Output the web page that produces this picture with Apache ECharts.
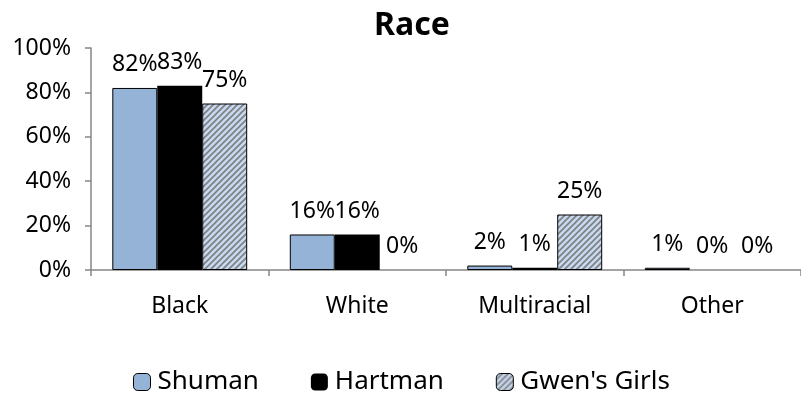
<!DOCTYPE html>
<html><head><meta charset="utf-8">
<script src="https://cdn.jsdelivr.net/npm/echarts@6/dist/echarts.min.js"></script>
<style>html,body{margin:0;padding:0;background:#fff}#c{width:801px;height:400px}</style>
</head><body><div id="c"></div>
<script>
const categories = ['Black', 'White', 'Multiracial', 'Other'];
const shuman = [82, 16, 2, 1];
const hartman = [83, 16, 1, 0];
const gwens = [75, 0, 25, 0];
const yTicks = [0, 20, 40, 60, 80, 100];

function stripePattern() {
  const c = document.createElement('canvas');
  c.width = 6; c.height = 6;
  const g = c.getContext('2d');
  g.fillStyle = '#C6D9F1';
  g.fillRect(0, 0, 6, 6);
  g.strokeStyle = '#7f7f7f';
  g.lineWidth = 1.6;
  g.beginPath();
  g.moveTo(-1, 7); g.lineTo(7, -1);
  g.moveTo(-4, 4); g.lineTo(4, -4);
  g.moveTo(2, 10); g.lineTo(10, 2);
  g.stroke();
  return c;
}
const pat = { image: stripePattern(), repeat: 'repeat' };
const font = 'Noto Sans';
const lbl = { show: true, position: 'top', formatter: '{c}%', color: '#000', fontSize: 23, fontFamily: font, distance: 12 };

function items(values, withBorder) {
  return values.map(v => ({ value: v, itemStyle: { borderWidth: (withBorder && v > 0) ? 1 : 0 } }));
}

const chart = echarts.init(document.getElementById('c'), null, { renderer: 'canvas' });
chart.setOption({
  animation: false,
  title: { text: 'Race', left: 407, top: 5, textAlign: 'center',
    textStyle: { fontSize: 32, fontWeight: 'bold', fontFamily: font, color: '#000' } },
  grid: { left: 91, right: -2, top: 48, bottom: 130 },
  legend: {
    top: 364, left: 128, itemWidth: 17, itemHeight: 17, itemGap: 52,
    textStyle: { fontSize: 26, fontFamily: font, color: '#000', padding: [0, 0, 0, 2] },
    data: [
      { name: 'Shuman', itemStyle: { color: '#95B3D7', borderColor: '#000', borderWidth: 1 } },
      { name: 'Hartman', itemStyle: { color: '#000' } },
      { name: "Gwen's Girls", itemStyle: { color: pat, borderColor: '#000', borderWidth: 1 } }
    ]
  },
  xAxis: {
    type: 'category', data: categories,
    axisLine: { lineStyle: { color: '#868686', width: 1.5 } },
    axisTick: { show: true, length: 6, lineStyle: { color: '#868686', width: 1.5 } },
    axisLabel: { color: '#000', fontSize: 23, fontFamily: font, margin: 25 }
  },
  yAxis: {
    type: 'value', min: 0, max: 100, interval: 20,
    axisLine: { show: true, lineStyle: { color: '#868686', width: 1.5 } },
    axisTick: { show: true, length: 6, lineStyle: { color: '#868686', width: 1.5 } },
    splitLine: { show: false },
    axisLabel: { formatter: '{value}%', color: '#000', fontSize: 23, fontFamily: font, margin: 20 }
  },
  series: [
    { name: 'Shuman', type: 'bar', data: items(shuman, true), barGap: '0%', barCategoryGap: '24%',
      itemStyle: { color: '#95B3D7', borderColor: '#000', borderWidth: 1 }, label: lbl },
    { name: 'Hartman', type: 'bar', data: hartman,
      itemStyle: { color: '#000' }, label: lbl },
    { name: "Gwen's Girls", type: 'bar', data: items(gwens, true),
      itemStyle: { color: pat, borderColor: '#000', borderWidth: 1 } , label: lbl }
  ]
});
</script></body></html>
